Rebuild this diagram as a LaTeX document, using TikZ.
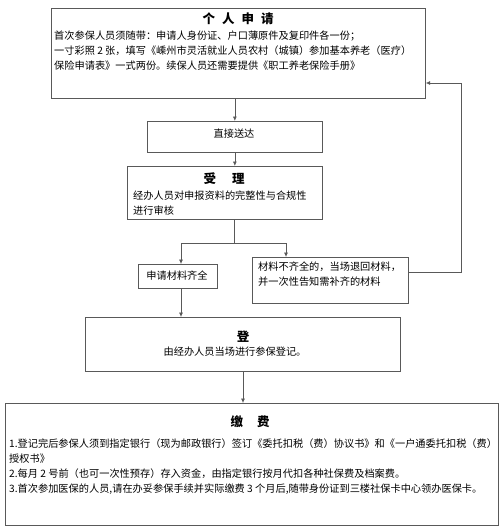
\documentclass[tikz,border=0pt]{standalone}
\usepackage{fontspec}
\setmainfont{Noto Sans CJK SC}
\usetikzlibrary{arrows.meta,calc}

\begin{document}
\begin{tikzpicture}[x=1pt, y=-1pt, >={Latex[length=4.5pt,width=4pt]}]

% styles
\tikzset{
  box/.style={draw=black!65, line width=0.7pt, inner sep=0pt, anchor=north west},
  link/.style={draw=black!65, line width=0.7pt},
  arr/.style={link, ->},
  head/.style={font=\fontsize{12.5}{15}\selectfont\bfseries, inner sep=0pt},
  body/.style={font=\fontsize{10.2}{15}\selectfont, align=left, inner sep=0pt, anchor=north west},
  plain/.style={font=\fontsize{10.2}{15}\selectfont, inner sep=0pt},
}

% canvas
\useasboundingbox (0,0) rectangle (500,530);

% boxes
\node[box, minimum width=374, minimum height=90] (apply) at (51,8) {};
\node[box, minimum width=175, minimum height=31] (direct) at (147,121) {};
\node[box, minimum width=195, minimum height=53] (accept) at (127,166) {};
\node[box, minimum width=79, minimum height=24] (complete) at (138,264) {};
\node[box, minimum width=156, minimum height=46] (incomplete) at (252,257) {};
\node[box, minimum width=315, minimum height=54] (register) at (85,317) {};
\node[box, minimum width=493, minimum height=122] (pay) at (5,403) {};

% application
\node[head] (applyT) at (238,19) {个\hspace{7pt}人\hspace{7pt}申\hspace{7pt}请};
\node[body] (applyB) at (54,31) {首次参保人员须随带：申请人身份证、户口薄原件及复印件各一份；\\
一寸彩照 2 张，填写《嵊州市灵活就业人员农村（城镇）参加基本养老（医疗）\\
保险申请表》一式两份。续保人员还需要提供《职工养老保险手册》};

% delivery
\node[plain] (directT) at (234,134) {直接送达};

% acceptance
\node[head] (acceptT) at (224,179) {受\hspace{16pt}理};
\node[body] (acceptB) at (133,191) {经办人员对申报资料的完整性与合规性\\进行审核};

% outcomes
\node[plain] (completeT) at (177,276) {申请材料齐全};
\node[body] (incompleteB) at (258,262) {材料不齐全的，当场退回材料，\\并一次性告知需补齐的材料};

% registration
\node[head] (registerT) at (243,337) {登};
\node[plain] (registerB) at (235,352) {由经办人员当场进行参保登记。};

% payment
\node[head] (payT) at (250,422) {缴\hspace{14pt}费};
\node[body] (payB) at (9,439) {1.登记完后参保人须到指定银行（现为邮政银行）签订《委托扣税（费）协议书》和《一户通委托扣税（费）\\
授权书》\\
2.每月 2 号前（也可一次性预存）存入资金，由指定银行按月代扣各种社保费及档案费。\\
3.首次参加医保的人员,请在办妥参保手续并实际缴费 3 个月后,随带身份证到三楼社保卡中心领办医保卡。};

% routing points
\coordinate (split) at (234,243);
\coordinate (splitL) at (181,243);
\coordinate (splitR) at (286,243);
\coordinate (loopB) at (461,272);
\coordinate (loopT) at (461,83);
\coordinate (down) at (243,0);

% connectors
\draw[arr] (direct.north |- apply.south) -- (direct.north);
\draw[arr] (direct.south) -- (direct.south |- accept.north);
\draw[link] (split |- accept.south) -- (split);
\draw[arr] (splitR) -- (splitL) -- (splitL |- complete.north);
\draw[arr] (split) -- (splitR) -- (splitR |- incomplete.north);
\draw[arr] (splitL |- complete.south) -- (splitL |- register.north);
\draw[arr] (incomplete.east |- loopB) -- (loopB) -- (loopT) -- (loopT -| apply.east);
\draw[arr] (down |- register.south) -- (down |- pay.north);

\end{tikzpicture}
\end{document}
